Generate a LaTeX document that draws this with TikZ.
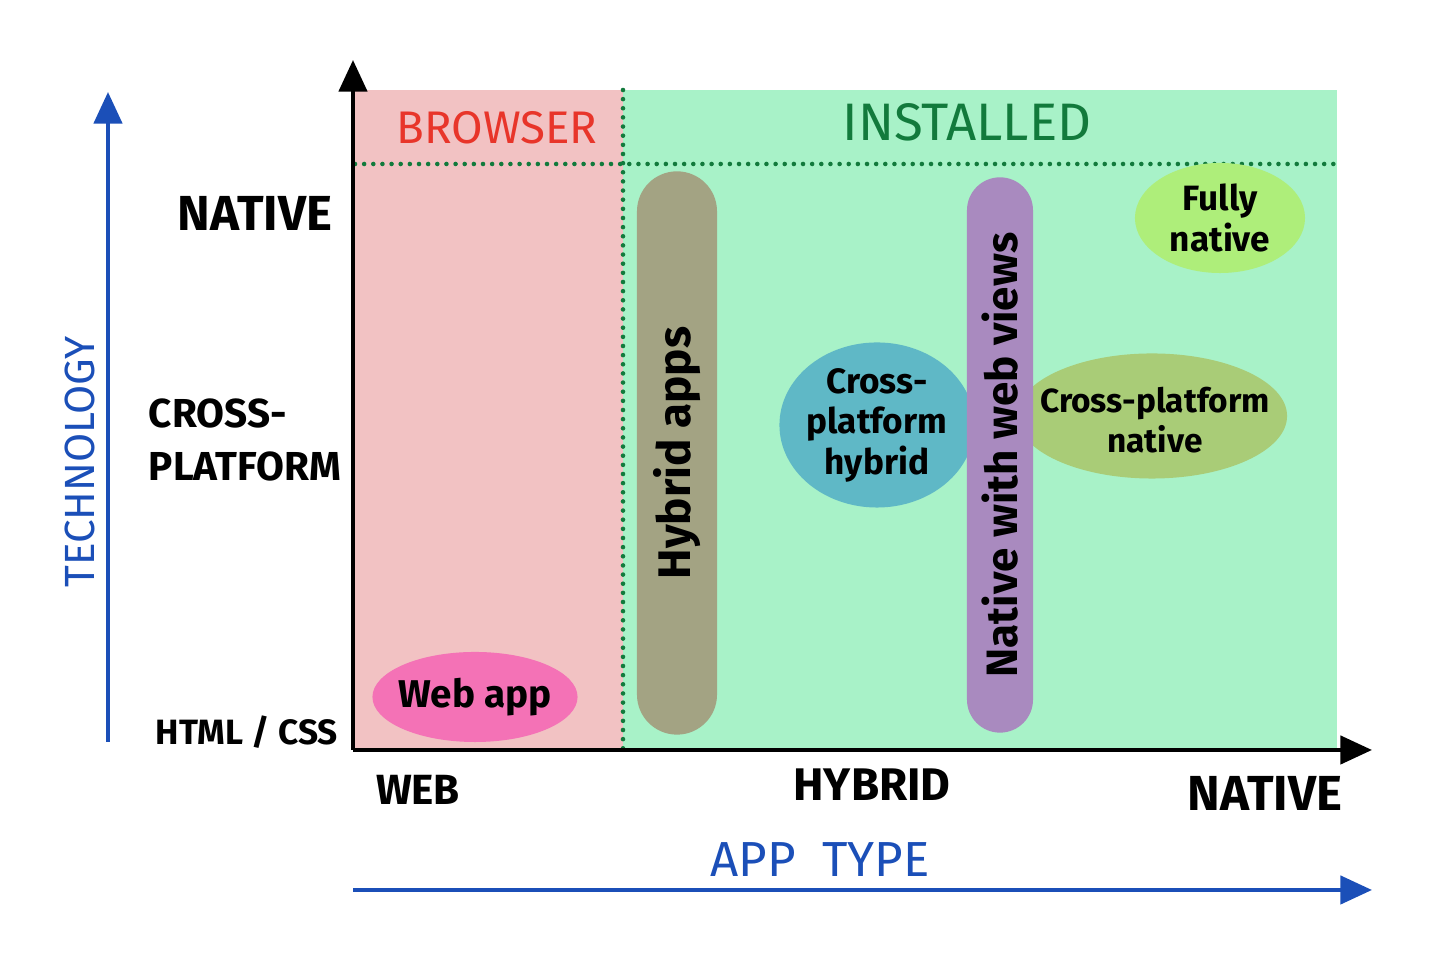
\documentclass[tikz,border=0pt]{standalone}
\usepackage{fontspec}
\setmainfont{Fira Sans}
\usetikzlibrary{arrows.meta,shapes.geometric}
\definecolor{browserbg}{HTML}{F2C2C3}
\definecolor{installedbg}{HTML}{A8F2C8}
\definecolor{webpink}{HTML}{F472B6}
\definecolor{khaki}{HTML}{A3A383}
\definecolor{tealblob}{HTML}{5FB8C6}
\definecolor{lilac}{HTML}{A98ABF}
\definecolor{olivegreen}{HTML}{A9CC77}
\definecolor{limegreen}{HTML}{AEEE7A}
\definecolor{darkgreen}{HTML}{127A3C}
\definecolor{inkred}{HTML}{E8352A}
\definecolor{inkblue}{HTML}{1B4FB8}
\tikzset{
  axis/.style={line width=1.2pt,-{Triangle[width=8pt,length=9pt]}},
  blueaxis/.style={axis,inkblue},
  divider/.style={darkgreen,line width=1.3pt,line cap=round,dash pattern=on 0pt off 2.6pt},
  ticklabel/.style={font=\fontsize{13}{15}\selectfont\bfseries,align=left},
  blob/.style={ellipse,inner sep=0pt},
  pill/.style={rectangle,inner sep=0pt},
  blobtext/.style={align=center,font=\fontsize{10}{11.5}\selectfont\bfseries},
  pilltext/.style={rotate=90,font=\fontsize{12.5}{14}\selectfont\bfseries},
}
\begin{document}
\begin{tikzpicture}[x=0.01cm,y=-0.01cm]
  \useasboundingbox (0,0) rectangle (1456,971);
  % regions
  \fill[browserbg] (355,90) rectangle (623,750);
  \fill[installedbg] (623,90) rectangle (1337,750);
  \draw[divider] (355,164) -- (1337,164);
  \draw[divider] (623,90) -- (623,750);
  \node[inkred,font=\fontsize{13}{15}\selectfont] (browser) at (497,128) {BROWSER};
  \node[darkgreen,font=\fontsize{15}{17}\selectfont] (installed) at (967,122) {INSTALLED};

  % axes
  \coordinate (origin) at (353,750);
  \coordinate (ytop) at (353,60);
  \coordinate (xend) at (1372,750);
  \draw[axis] (origin) -- (ytop);
  \draw[axis] (origin) -- (xend);

  \coordinate (techlow) at (108,742);
  \coordinate (techtop) at (108,92);
  \coordinate (typelow) at (353,890);
  \coordinate (typeend) at (1372,890);
  \draw[blueaxis] (techlow) -- (techtop);
  \draw[blueaxis] (typelow) -- (typeend);
  \node[inkblue,rotate=90,font=\fontsize{12}{14}\selectfont] (technology) at (80,462) {TECHNOLOGY};
  \node[inkblue,font=\fontsize{14}{16}\selectfont] (apptype) at (820,860) {APP\ \ TYPE};

  % tick labels
  \node[ticklabel,font=\fontsize{14}{16}\selectfont\bfseries] (tnative) at (255,213) {NATIVE};
  \node[ticklabel,font=\fontsize{11.5}{15}\selectfont\bfseries] (tcross) at (245,440) {CROSS-\\PLATFORM};
  \node[ticklabel,font=\fontsize{10}{12}\selectfont\bfseries] (thtml) at (247,732) {HTML / CSS};
  \node[ticklabel,font=\fontsize{12}{14}\selectfont\bfseries] (aweb) at (418,790) {WEB};
  \node[ticklabel] (ahybrid) at (872,785) {HYBRID};
  \node[ticklabel,font=\fontsize{14}{16}\selectfont\bfseries] (anative) at (1265,793) {NATIVE};

  % app kinds
  \node[blob,fill=webpink,minimum width=2.05cm,minimum height=0.9cm] (webapp) at (475,697) {};
  \node[blobtext,font=\fontsize{11}{13}\selectfont\bfseries] (webapptext) at (webapp) {Web app};
  \node[blob,fill=tealblob,minimum width=1.95cm,minimum height=1.65cm] (crosshybrid) at (877,425) {};
  \node[blobtext] (crosshybridtext) at (crosshybrid) {Cross-\\platform\\hybrid};
  \node[blob,fill=olivegreen,minimum width=2.7cm,minimum height=1.25cm] (crossnative) at (1152,416) {};
  \node[blobtext,font=\fontsize{9.5}{11.5}\selectfont\bfseries] (crossnativetext) at (1155,420) {Cross-platform\\native};
  \node[blob,fill=limegreen,minimum width=1.7cm,minimum height=1.1cm] (fullynative) at (1220,218) {};
  \node[blobtext] (fullynativetext) at (fullynative) {Fully\\native};
  \node[pill,fill=khaki,rounded corners=0.4cm,minimum width=0.8cm,minimum height=5.63cm] (hybridapps) at (677,453) {};
  \node[pilltext,font=\fontsize{13}{15}\selectfont\bfseries] (hybridtext) at (hybridapps) {Hybrid apps};
  \node[pill,fill=lilac,rounded corners=0.33cm,minimum width=0.66cm,minimum height=5.55cm] (webviews) at (1000,455) {};
  \node[pilltext] (webviewstext) at (webviews) {Native with web views};
\end{tikzpicture}
\end{document}
